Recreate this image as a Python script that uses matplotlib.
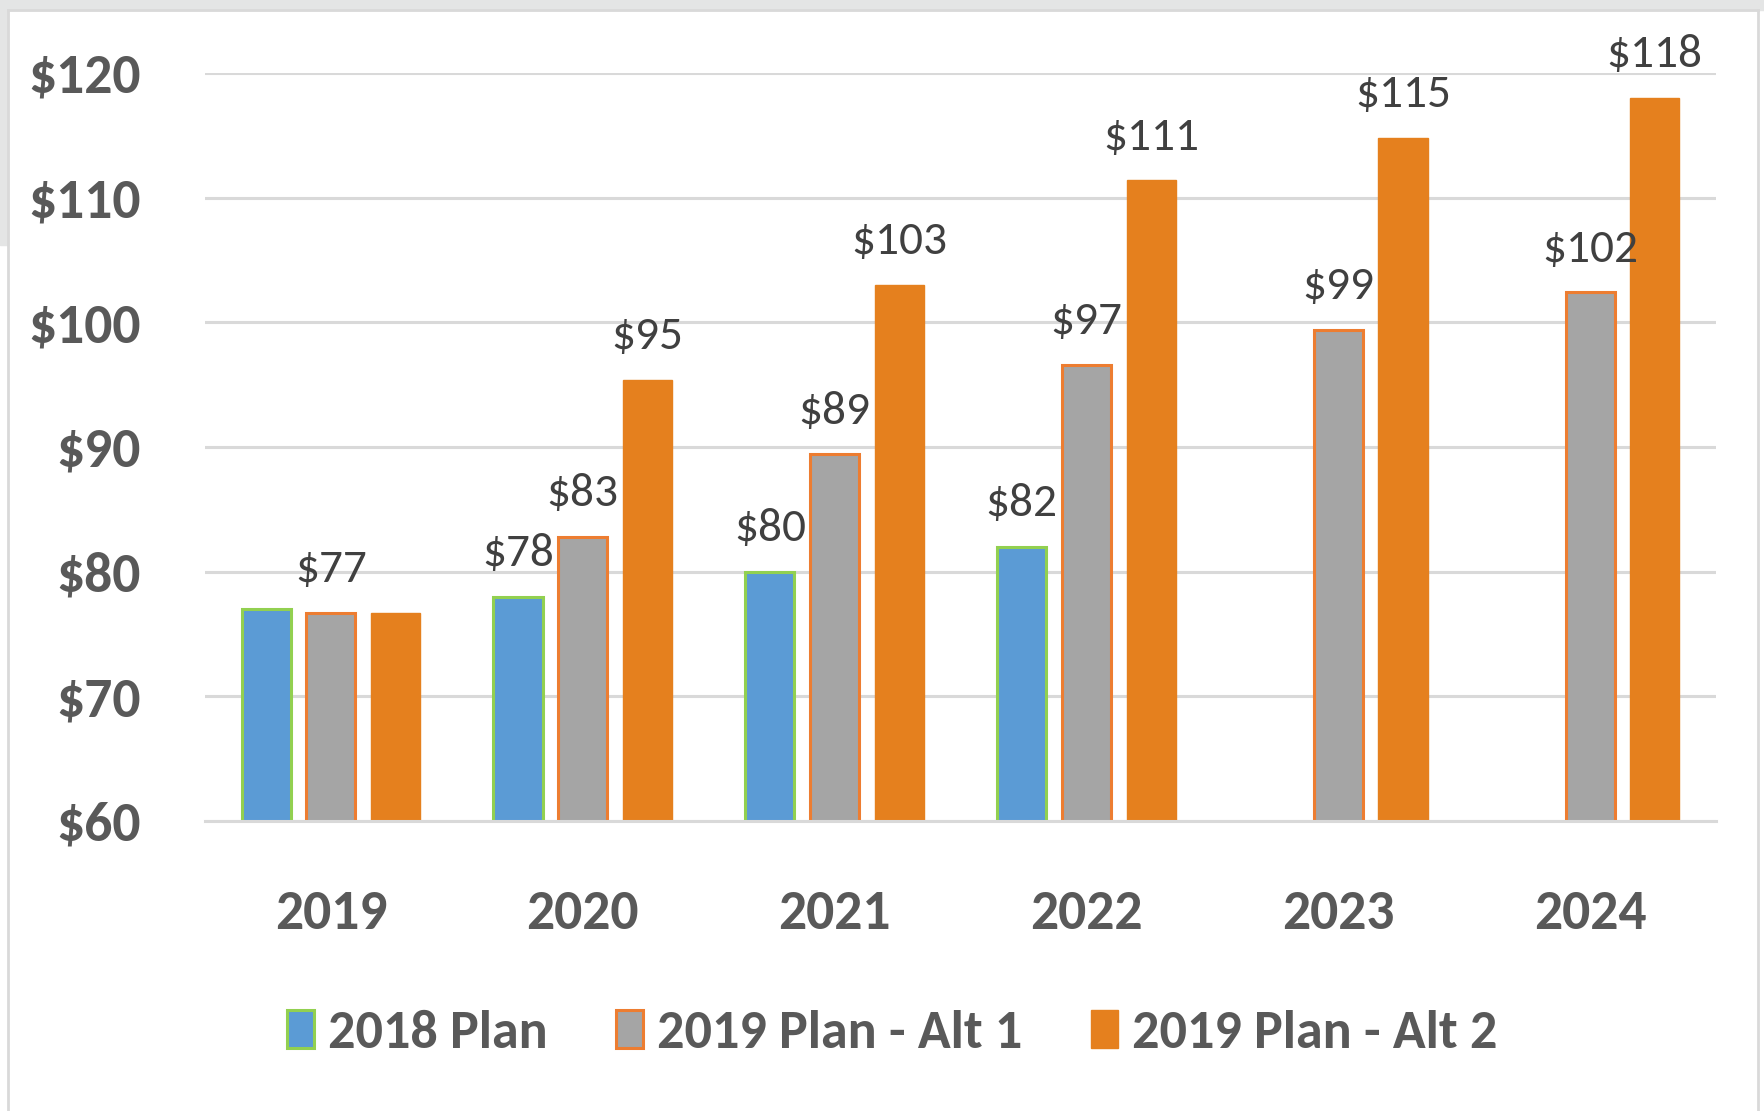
import numpy as np
import matplotlib.pyplot as plt
from matplotlib.patches import Rectangle
from matplotlib.lines import Line2D

plt.rcParams['font.family'] = ['Carlito', 'Asap Condensed', 'DejaVu Sans']

years = ["2019", "2020", "2021", "2022", "2023", "2024"]
plan_2018 = [77.0, 78.0, 80.0, 82.0, np.nan, np.nan]
alt_1 = [76.7, 82.8, 89.4, 96.6, 99.4, 102.4]
alt_2 = [76.7, 95.4, 103.0, 111.4, 114.8, 118.0]

# which bars carry a value label
show_2018 = [False, True, True, True, False, False]
show_alt1 = [True, True, True, True, True, True]
show_alt2 = [False, True, True, True, True, True]

names = ["2018 Plan", "2019 Plan - Alt 1", "2019 Plan - Alt 2"]
yticks = [60, 70, 80, 90, 100, 110, 120]

fig = plt.figure(figsize=(17.64, 11.11), dpi=100)
fig.patch.set_facecolor("white")

# slide background peeking in at top/left
fig.add_artist(Rectangle((0, 1 - 10 / 1111), 1, 10 / 1111, transform=fig.transFigure,
                         color="#E4E5E5", zorder=0))
fig.add_artist(Rectangle((0, 1 - 245 / 1111), 8 / 1764, 245 / 1111, transform=fig.transFigure,
                         color="#E4E5E5", zorder=0))
fig.add_artist(Line2D([8 / 1764, 8 / 1764], [0, 1 - 10 / 1111], transform=fig.transFigure,
                      color="#D9D9D9", lw=2))
fig.add_artist(Line2D([1758 / 1764, 1758 / 1764], [0, 1 - 10 / 1111], transform=fig.transFigure,
                      color="#D9D9D9", lw=2))
fig.add_artist(Line2D([8 / 1764, 1758 / 1764], [1 - 10 / 1111, 1 - 10 / 1111],
                      transform=fig.transFigure, color="#D9D9D9", lw=2))

ax = fig.add_axes([205 / 1764, 1 - 821 / 1111, (1716 - 205) / 1764, (821 - 73) / 1111])

x = np.arange(len(years))
w = 0.195
step = 0.257

b1 = ax.bar(x - step, plan_2018, w, color="#5B9BD5", edgecolor="#92D050", linewidth=2.2,
            label=names[0])
b2 = ax.bar(x, alt_1, w, color="#A5A5A5", edgecolor="#ED7D31", linewidth=2.2,
            label=names[1])
b3 = ax.bar(x + step, alt_2, w, color="#E5801E", edgecolor="#E5801E", linewidth=1,
            label=names[2])

for bars, vals, show in [(b1, plan_2018, show_2018), (b2, alt_1, show_alt1), (b3, alt_2, show_alt2)]:
    for bar, v, s in zip(bars, vals, show):
        if s and not np.isnan(v):
            ax.annotate(f"${v:.0f}", (bar.get_x() + bar.get_width() / 2, v),
                        xytext=(0, 22), textcoords="offset points", ha="center",
                        va="baseline", fontsize=34, color="#404040", clip_on=False)

ax.set_xlim(-0.5, 5.5)
ax.set_ylim(60, 120)
ax.set_yticks(yticks)
ax.set_yticklabels([f"${t}" for t in yticks])
ax.set_xticks(x)
ax.set_xticklabels(years)
ax.yaxis.grid(True, color="#D9D9D9", linewidth=2.2)
ax.set_axisbelow(True)
for sp in ["top", "right", "left"]:
    ax.spines[sp].set_visible(False)
ax.spines["bottom"].set_color("#D9D9D9")
ax.spines["bottom"].set_linewidth(2.2)
ax.tick_params(axis="both", length=0, labelsize=40, labelcolor="#595959")
ax.tick_params(axis="y", pad=46)
ax.tick_params(axis="x", pad=49)
for lab in ax.get_xticklabels() + ax.get_yticklabels():
    lab.set_fontweight("bold")

leg = ax.legend(loc="center", bbox_to_anchor=(892 / 1764, 1 - 1033 / 1111),
                bbox_transform=fig.transFigure, ncol=3, frameon=False,
                fontsize=39, handlelength=0.5, handleheight=0.7, handletextpad=0.26,
                columnspacing=1.26, borderaxespad=0)
for t in leg.get_texts():
    t.set_color("#595959")
    t.set_fontweight("bold")

fig.savefig("out.png", dpi=100)
